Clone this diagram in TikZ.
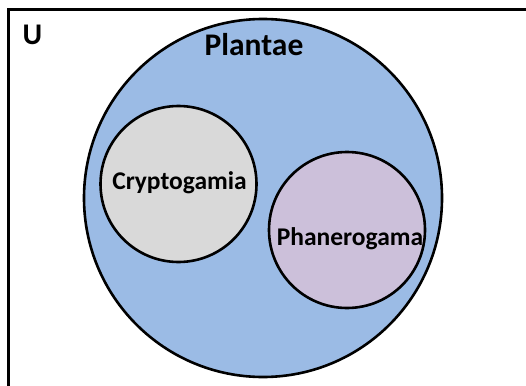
\documentclass[tikz,border=0pt]{standalone}
\usepackage{fontspec}
\setmainfont{Carlito}
\begin{document}
\begin{tikzpicture}[x=1pt,y=-1pt,
  setcircle/.style={draw=black,line width=2.6pt},
  lbl/.style={font=\bfseries,text=black,inner sep=0pt}]
\definecolor{plantblue}{RGB}{155,187,229}
\definecolor{cryptgray}{RGB}{217,217,217}
\definecolor{phanlilac}{RGB}{204,192,218}
\useasboundingbox (0,0) rectangle (526,385);
\clip (0,0) rectangle (526,385);
\draw[line width=3pt] (8.5,400) -- (8.5,9.5) -- (540,9.5);
\node[lbl,font=\bfseries\fontsize{30}{32}\selectfont] (u) at (32.5,35) {U};
\draw[setcircle,fill=plantblue] (263,198) circle[radius=179];
\node[lbl,font=\bfseries\fontsize{31.5}{33}\selectfont] (plantae) at (254,45) {Plantae};
\draw[setcircle,fill=cryptgray] (178.5,184) circle[radius=78];
\node[lbl,font=\bfseries\fontsize{25.5}{27}\selectfont] (crypt) at (179.5,183) {Cryptogamia};
\draw[setcircle,fill=phanlilac] (347,230) circle[radius=78];
\node[lbl,font=\bfseries\fontsize{25.5}{27}\selectfont] (phan) at (350,238.5) {Phanerogama};
\end{tikzpicture}
\end{document}
